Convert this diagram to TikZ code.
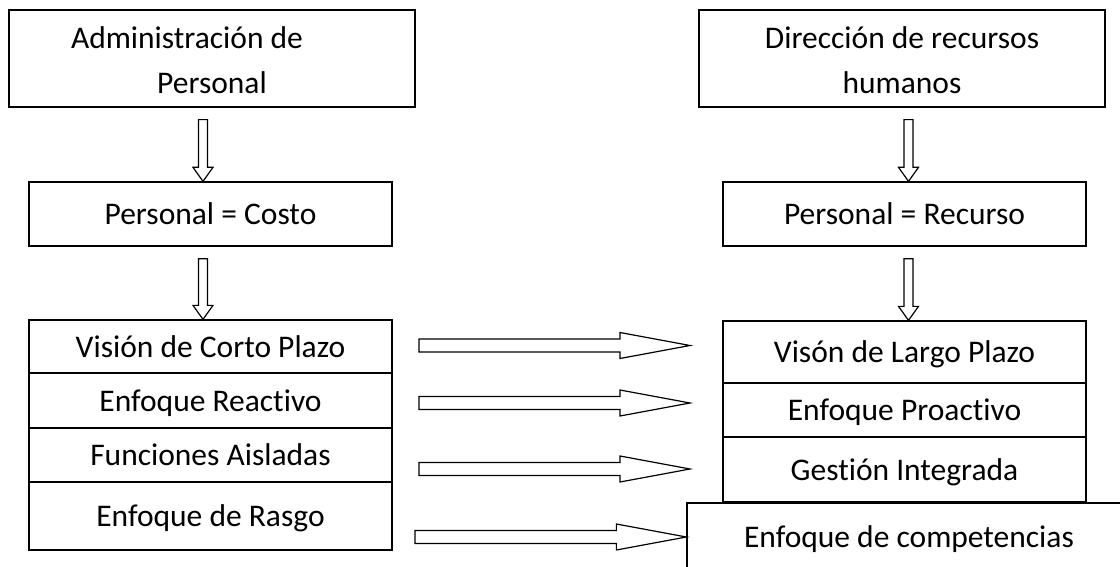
\documentclass[tikz,border=0pt]{standalone}
\usepackage{fontspec}
\setmainfont{Carlito}[Ligatures=NoCommon]
\usetikzlibrary{calc}

% vertical block arrow from the bottom of #1 to the top of #2, shifted by #3 (pt)
\newcommand\blockdown[3]{%
  \draw[blk] let \p1=(#1.south), \p2=(#2.north) in
    (\x2+#3pt-4.5pt,\y1-12pt) -- (\x2+#3pt-4.5pt,\y2+14pt) -- (\x2+#3pt-10pt,\y2+14pt)
    -- (\x2+#3pt,\y2) -- (\x2+#3pt+10pt,\y2+14pt) -- (\x2+#3pt+4.5pt,\y2+14pt)
    -- (\x2+#3pt+4.5pt,\y1-12pt) -- cycle;}
% horizontal block arrow from #1 to #2
\newcommand\blockright[2]{%
  \draw[blk] let \p1=(#1), \p2=(#2) in
    (\x1,\y2+6.5pt) -- (\x2-70pt,\y2+6.5pt) -- (\x2-70pt,\y2+13pt) -- (\x2,\y2)
    -- (\x2-70pt,\y2-13pt) -- (\x2-70pt,\y2-6.5pt) -- (\x1,\y2-6.5pt) -- cycle;}

\begin{document}
\begin{tikzpicture}[x=1pt,y=-1pt,
  box/.style={draw=black,line width=1.3pt,fill=white,inner sep=0pt,
    text height=21pt,text depth=0pt,font=\fontsize{31.5}{38}\selectfont},
  blk/.style={draw=black,line width=1.2pt,fill=white,line join=miter},
  txt/.style={inner sep=0pt,anchor=base,font=\fontsize{31.5}{38}\selectfont}]

\useasboundingbox (0,0) rectangle (1120,567);
\clip (0,0) rectangle (1120,567);
\fill[white] (0,0) rectangle (1120,567);

% left column
\node[box,minimum width=406pt,minimum height=97pt] (adm) at (212,58.5) {};
\node[txt] (adm1) at (187,49) {Administración de};
\node[txt] (adm2) at (212,94) {Personal};
\node[box,minimum width=363pt,minimum height=64pt] (cost) at (210.5,214) {Personal = Costo};
\node[box,minimum width=363pt,minimum height=53pt] (l1) at (210.5,346.5) {Visión de Corto Plazo};
\node[box,minimum width=363pt,minimum height=55pt] (l2) at (210.5,400.5) {Enfoque Reactivo};
\node[box,minimum width=363pt,minimum height=54pt] (l3) at (210.5,455) {Funciones Aisladas};
\node[box,minimum width=363pt,minimum height=68pt] (l4) at (210.5,516) {Enfoque de Rasgo};

% right column
\node[box,minimum width=406pt,minimum height=97pt] (dir) at (902,58.5) {};
\node[txt] (dir1) at (902,49) {Dirección de recursos};
\node[txt] (dir2) at (902,94) {humanos};
\node[box,minimum width=363pt,minimum height=64pt] (rec) at (904.5,214) {Personal = Recurso};
\node[box,minimum width=363pt,minimum height=62pt] (r1) at (904.5,352) {Visón de Largo Plazo};
\node[box,minimum width=363pt,minimum height=54pt] (r2) at (904.5,410) {Enfoque Proactivo};
\node[box,minimum width=363pt,minimum height=65pt] (r3) at (904.5,469.5) {Gestión Integrada};
\node[box,minimum width=444pt,minimum height=68pt] (comp) at (909,537) {Enfoque de competencias};

% downward arrows
\blockdown{adm}{cost}{-7.5}
\blockdown{cost}{l1}{-7.5}
\blockdown{dir}{rec}{4}
\blockdown{rec}{r1}{4}

% free ends of the horizontal arrows
\coordinate (a1s) at (419,345.5); \coordinate (a1e) at (690,345.5);
\coordinate (a2s) at (419,403);   \coordinate (a2e) at (690,403);
\coordinate (a3s) at (419,469);   \coordinate (a3e) at (690,469);
\coordinate (a4s) at (415,537);

\blockright{a1s}{a1e}
\blockright{a2s}{a2e}
\blockright{a3s}{a3e}
\blockright{a4s}{comp.west}
\end{tikzpicture}
\end{document}
